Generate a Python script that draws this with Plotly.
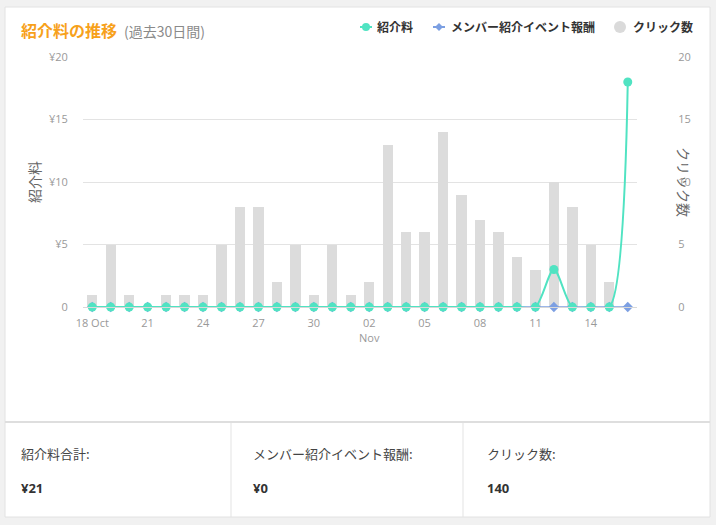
import plotly.graph_objects as go

# --- data (30 days) ---
DATES = [
    "2023-10-18", "2023-10-19", "2023-10-20", "2023-10-21", "2023-10-22",
    "2023-10-23", "2023-10-24", "2023-10-25", "2023-10-26", "2023-10-27",
    "2023-10-28", "2023-10-29", "2023-10-30", "2023-10-31", "2023-11-01",
    "2023-11-02", "2023-11-03", "2023-11-04", "2023-11-05", "2023-11-06",
    "2023-11-07", "2023-11-08", "2023-11-09", "2023-11-10", "2023-11-11",
    "2023-11-12", "2023-11-13", "2023-11-14", "2023-11-15", "2023-11-16",
]
CLICKS = [1, 5, 1, 0, 1, 1, 1, 5, 8, 8, 2, 5, 1, 5, 1,
          2, 13, 6, 6, 14, 9, 7, 6, 4, 3, 10, 8, 5, 2, 0]
FEE = [0, 0, 0, 0, 0, 0, 0, 0, 0, 0, 0, 0, 0, 0, 0,
       0, 0, 0, 0, 0, 0, 0, 0, 0, 0, 3, 0, 0, 0, 18]
EVENT_FEE = [0, 0, 0, 0, 0, 0, 0, 0, 0, 0, 0, 0, 0, 0, 0,
             0, 0, 0, 0, 0, 0, 0, 0, 0, 0, 0, 0, 0, 0, 0]

TICK_DATES = ["2023-10-18", "2023-10-21", "2023-10-24", "2023-10-27", "2023-10-30",
              "2023-11-02", "2023-11-05", "2023-11-08", "2023-11-11", "2023-11-14"]
TICK_TEXT = ["18 Oct", "21", "24", "27", "30", "02<br>Nov", "05", "08", "11", "14"]
Y_TICKS = [0, 5, 10, 15, 20]
YEN_TICK_TEXT = ["0", "¥5", "¥10", "¥15", "¥20"]

SUMMARY_LABELS = ["紹介料合計:", "メンバー紹介イベント報酬:", "クリック数:"]
SUMMARY_VALUES = ["¥21", "¥0", "140"]

TEAL = "#50e3c2"
BLUE = "#7c9fe2"
BAR_GRAY = "#dcdcdc"
FONT = "Open Sans, Noto Sans CJK JP, sans-serif"
JP_FONT = "Noto Sans CJK JP, sans-serif"

W, H = 716, 525
L, R, T, B = 83, 637, 57, 307   # plot area in pixels


def px(x):
    return (x - L) / (R - L)


def py(y):
    return (B - y) / (B - T)


fig = go.Figure()

# clicks (bars) on primary axis, drawn underneath
fig.add_trace(go.Bar(
    x=DATES, y=CLICKS, name="クリック数",
    marker=dict(color=BAR_GRAY, line=dict(width=0)),
    width=0.56 * 86400000,
    yaxis="y",
))
fig.add_trace(go.Scatter(
    x=DATES, y=EVENT_FEE, name="メンバー紹介イベント報酬",
    mode="lines+markers",
    line=dict(color=BLUE, width=1.5),
    marker=dict(symbol="diamond", size=8, color=BLUE),
    cliponaxis=False,
    yaxis="y2",
))
fig.add_trace(go.Scatter(
    x=DATES, y=FEE, name="紹介料",
    mode="lines+markers",
    line=dict(color=TEAL, width=2, shape="spline", smoothing=0.8),
    marker=dict(symbol="circle", size=9, color=TEAL),
    cliponaxis=False,
    yaxis="y2",
))

shapes = [
    # card
    dict(type="rect", xref="paper", yref="paper", x0=px(5), x1=px(710), y0=py(517), y1=py(7),
         fillcolor="white", line=dict(color="#e2e2e2", width=1), layer="below"),
    # divider between chart and summary
    dict(type="line", xref="paper", yref="paper", x0=px(5), x1=px(710), y0=py(422), y1=py(422),
         line=dict(color="#dedede", width=2)),
    dict(type="line", xref="paper", yref="paper", x0=px(231), x1=px(231), y0=py(423), y1=py(517),
         line=dict(color="#e3e3e3", width=1)),
    dict(type="line", xref="paper", yref="paper", x0=px(463), x1=px(463), y0=py(423), y1=py(517),
         line=dict(color="#e3e3e3", width=1)),
    # legend symbols
    dict(type="line", xref="paper", yref="paper", x0=px(360), x1=px(372), y0=py(27), y1=py(27),
         line=dict(color=TEAL, width=2)),
    dict(type="circle", xref="paper", yref="paper", x0=px(362), x1=px(370), y0=py(31), y1=py(23),
         fillcolor=TEAL, line=dict(width=0)),
    dict(type="line", xref="paper", yref="paper", x0=px(433), x1=px(445), y0=py(27), y1=py(27),
         line=dict(color=BLUE, width=2)),
    dict(type="path", xref="paper", yref="paper",
         path=f"M {px(439)},{py(23)} L {px(443)},{py(27)} L {px(439)},{py(31)} L {px(435)},{py(27)} Z",
         fillcolor=BLUE, line=dict(width=0)),
    dict(type="circle", xref="paper", yref="paper", x0=px(614), x1=px(626), y0=py(33), y1=py(21),
         fillcolor="#dadada", line=dict(width=0)),
]

annotations = [
    dict(text="<b>紹介料の推移</b>", x=px(19), y=py(30), xref="paper", yref="paper",
         xanchor="left", yanchor="middle", showarrow=False,
         font=dict(family=JP_FONT, size=16, color="#f7a11a")),
    dict(text="(過去30日間)", x=px(122), y=py(31), xref="paper", yref="paper",
         xanchor="left", yanchor="middle", showarrow=False,
         font=dict(family=JP_FONT, size=14, color="#8a8a8a")),
    dict(text="<b>紹介料</b>", x=px(375), y=py(27), xref="paper", yref="paper",
         xanchor="left", yanchor="middle", showarrow=False,
         font=dict(family=JP_FONT, size=12, color="#333333")),
    dict(text="<b>メンバー紹介イベント報酬</b>", x=px(449), y=py(27), xref="paper", yref="paper",
         xanchor="left", yanchor="middle", showarrow=False,
         font=dict(family=JP_FONT, size=12, color="#333333")),
    dict(text="<b>クリック数</b>", x=px(631), y=py(27), xref="paper", yref="paper",
         xanchor="left", yanchor="middle", showarrow=False,
         font=dict(family=JP_FONT, size=12, color="#333333")),
    # axis titles
    dict(text="紹介料", x=px(34), y=py(182), xref="paper", yref="paper",
         xanchor="center", yanchor="middle", showarrow=False, textangle=-90,
         font=dict(family=JP_FONT, size=14, color="#666666")),
    dict(text="クリック数", x=px(684), y=py(182), xref="paper", yref="paper",
         xanchor="center", yanchor="middle", showarrow=False, textangle=90,
         font=dict(family=JP_FONT, size=14, color="#666666")),
]

cell_x = [19, 251, 485]
for cx, lab, val in zip(cell_x, SUMMARY_LABELS, SUMMARY_VALUES):
    annotations.append(dict(text=lab, x=px(cx), y=py(453), xref="paper", yref="paper",
                            xanchor="left", yanchor="middle", showarrow=False,
                            font=dict(family=JP_FONT, size=13, color="#444444")))
    annotations.append(dict(text=f"<b>{val}</b>", x=px(cx), y=py(488), xref="paper", yref="paper",
                            xanchor="left", yanchor="middle", showarrow=False,
                            font=dict(family=FONT, size=13, color="#333333")))

fig.update_layout(
    width=W, height=H, autosize=False,
    margin=dict(l=L, r=W - R, t=T, b=H - B, pad=0),
    paper_bgcolor="#f1f1f1",
    plot_bgcolor="rgba(0,0,0,0)",
    showlegend=False,
    bargap=0,
    font=dict(family=FONT, size=11, color="#999999"),
    shapes=shapes,
    annotations=annotations,
    xaxis=dict(
        type="date",
        range=["2023-10-17 12:00", "2023-11-16 12:00"],
        tickvals=TICK_DATES, ticktext=TICK_TEXT,
        showgrid=False, zeroline=False,
        showline=True, linecolor="#d8d8d8", linewidth=1,
        ticks="outside", ticklen=6, tickcolor="rgba(0,0,0,0)",
        tickfont=dict(size=11, color="#999999"),
    ),
    yaxis=dict(
        range=[0, 20], side="right",
        tickvals=Y_TICKS, ticktext=[str(v) for v in Y_TICKS],
        showgrid=True, gridcolor="#e3e3e3", gridwidth=1,
        zeroline=False, showline=False,
        ticks="outside", ticklen=38, tickcolor="rgba(0,0,0,0)",
        tickfont=dict(size=11, color="#999999"),
    ),
    yaxis2=dict(
        range=[0, 20], side="left", overlaying="y",
        tickvals=Y_TICKS, ticktext=YEN_TICK_TEXT,
        showgrid=False, zeroline=False, showline=False,
        ticks="outside", ticklen=12, tickcolor="rgba(0,0,0,0)",
        tickfont=dict(size=11, color="#999999"),
    ),
)

fig.write_html("out.html", config={"displayModeBar": False},
               post_script="document.body.style.margin='0';")
